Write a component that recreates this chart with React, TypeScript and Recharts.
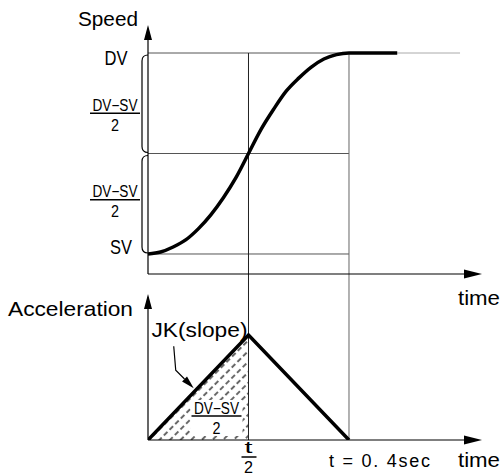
import React from 'react'
import { ComposedChart, Line, Area, XAxis, YAxis, ReferenceLine, ReferenceDot, ReferenceArea } from 'recharts'

// speed profile: time in sec, speed as % of the SV..DV step
const speedTimes = [0, 0.025, 0.05, 0.075, 0.1, 0.125, 0.15, 0.175, 0.2, 0.225, 0.25, 0.275, 0.3, 0.325, 0.35, 0.375, 0.4, 0.496]
const speedValues = [0, 1, 3.5, 7, 12.5, 19.5, 28, 38, 50, 62, 72, 81, 87.5, 93, 97, 99.2, 100, 100]
// thin grey continuation of the DV level
const holdTimes = [0.496, 0.621]
const holdValues = [100, 100]

// acceleration triangle (peak = 1)
const accTimes = [0, 0.2, 0.4]
const accValues = [0, 1, 0]
// hatched part under the rising edge
const hatchTimes = [0, 0.2]
const hatchValues = [0, 1]

const SV = 0
const MID = 50
const DV = 100
const T = 0.4
const HALF_T = 0.2

// axis extents
const X_MAX = 0.6647
const SPEED_DOMAIN = [-92.54, 116.42]
const ACC_DOMAIN = [0, 4]
const SPEED_AXIS_BOTTOM = -9.95
const SPEED_AXIS_TOP = 113.93
const ACC_AXIS_TOP = 1.39

const FONT = 'Liberation Sans, Arial, Helvetica, sans-serif'

const speedData = speedTimes.map((t, i) => ({ t, v: speedValues[i] }))
const holdData = holdTimes.map((t, i) => ({ t, v: holdValues[i] }))
const accData = accTimes.map((t, i) => ({ t, a: accValues[i] }))
const hatchData = hatchTimes.map((t, i) => ({ t, a: hatchValues[i] }))

function Txt({ x, y, children, size = 21, anchor = 'start', len, adjust = 'spacingAndGlyphs' }: any) {
  return (
    <text
      x={x}
      y={y}
      fontSize={size}
      fontFamily={FONT}
      textAnchor={anchor}
      textLength={len}
      lengthAdjust={len ? adjust : undefined}
      fill="#000"
    >
      {children}
    </text>
  )
}

function Fraction({ cx, cy, halo = false }: any) {
  return (
    <g>
      {halo && <rect x={cx - 26} y={cy - 16} width={52} height={36} fill="#fff" />}
      <Txt x={cx} y={cy - 2.5} anchor="middle" size={16} len={45}>DV−SV</Txt>
      <line x1={cx - 25} x2={cx + 25} y1={cy} y2={cy} stroke="#000" strokeWidth={1.5} />
      <Txt x={cx} y={cy + 17.5} anchor="middle" size={16} len={8}>2</Txt>
    </g>
  )
}

function Brace({ x, y, height }: any) {
  const y0 = y + 2
  const y1 = y + height - 1
  const bx = x - 6
  return (
    <path
      d={`M${x} ${y0} Q${bx} ${y0} ${bx} ${y0 + 6} L${bx} ${y1 - 6} Q${bx} ${y1} ${x} ${y1}`}
      fill="none"
      stroke="#000"
      strokeWidth={1.2}
    />
  )
}

const upArrow = (p: any) => (
  <path d={`M${p.cx} ${p.cy} L${p.cx + 4} ${p.cy + 15} L${p.cx - 4} ${p.cy + 15} Z`} fill="#000" />
)
const rightArrow = (p: any) => (
  <path d={`M${p.cx} ${p.cy} L${p.cx - 18} ${p.cy - 4.5} L${p.cx - 18} ${p.cy + 4.5} Z`} fill="#000" />
)

function Leader({ cx, cy }: any) {
  const tx = cx - 1
  const ty = cy - 3
  const d = 0.7071
  const bx = tx - 13 * d
  const by = ty - 13 * d
  return (
    <g>
      <path d={`M${cx - 21} ${cy - 45} L${cx - 19} ${cy - 21} L${bx} ${by}`} fill="none" stroke="#000" strokeWidth={1.2} />
      <path d={`M${tx} ${ty} L${bx - 3.5 * d} ${by + 3.5 * d} L${bx + 3.5 * d} ${by - 3.5 * d} Z`} fill="#000" />
    </g>
  )
}

export default function App() {
  return (
    <div style={{ position: 'absolute', left: 0, top: 0, width: 502, height: 475, background: '#fff' }}>
      <ComposedChart width={502} height={475} margin={{ top: 20, right: 20, bottom: 35, left: 148 }}>
        <defs>
          <pattern id="hatch" width="8" height="7.5" patternUnits="userSpaceOnUse" patternTransform="rotate(-45)">
            <line x1="0" y1="3.75" x2="8" y2="3.75" stroke="#666" strokeWidth={2} strokeDasharray="5 3" />
          </pattern>
        </defs>
        <XAxis type="number" dataKey="t" domain={[0, X_MAX]} hide allowDataOverflow />
        <YAxis yAxisId="speed" type="number" domain={SPEED_DOMAIN} hide allowDataOverflow />
        <YAxis yAxisId="acc" type="number" domain={ACC_DOMAIN} hide allowDataOverflow />

        {/* speed grid */}
        {[DV, MID, SV].map((v) => (
          <ReferenceLine key={v} yAxisId="speed" segment={[{ x: 0, y: v }, { x: T, y: v }]} stroke="#555" strokeWidth={1} />
        ))}
        <ReferenceLine yAxisId="speed" segment={[{ x: HALF_T, y: DV }, { x: HALF_T, y: SPEED_DOMAIN[0] }]} stroke="#222" strokeWidth={1} />
        <ReferenceLine yAxisId="speed" segment={[{ x: T, y: DV }, { x: T, y: SPEED_DOMAIN[0] }]} stroke="#666" strokeWidth={1} />

        {/* axes */}
        <ReferenceLine yAxisId="speed" segment={[{ x: 0, y: SPEED_AXIS_BOTTOM }, { x: 0, y: SPEED_AXIS_TOP - 3 }]} stroke="#000" strokeWidth={1.2} />
        <ReferenceLine yAxisId="speed" segment={[{ x: 0, y: SPEED_AXIS_BOTTOM }, { x: X_MAX - 0.01, y: SPEED_AXIS_BOTTOM }]} stroke="#000" strokeWidth={1.2} />
        <ReferenceLine yAxisId="acc" segment={[{ x: 0, y: 0 }, { x: 0, y: ACC_AXIS_TOP - 0.03 }]} stroke="#000" strokeWidth={1.2} />
        <ReferenceLine yAxisId="acc" segment={[{ x: 0, y: 0 }, { x: X_MAX - 0.01, y: 0 }]} stroke="#000" strokeWidth={1.2} />
        <ReferenceDot yAxisId="speed" x={0} y={SPEED_AXIS_TOP} ifOverflow="visible" shape={upArrow} />
        <ReferenceDot yAxisId="speed" x={X_MAX} y={SPEED_AXIS_BOTTOM} ifOverflow="visible" shape={rightArrow} />
        <ReferenceDot yAxisId="acc" x={0} y={ACC_AXIS_TOP} ifOverflow="visible" shape={upArrow} />
        <ReferenceDot yAxisId="acc" x={X_MAX} y={0} ifOverflow="visible" shape={rightArrow} />

        {/* series */}
        <Area yAxisId="acc" data={hatchData} dataKey="a" type="linear" fill="url(#hatch)" fillOpacity={1} stroke="none" baseValue={0} isAnimationActive={false} />
        <Line yAxisId="speed" data={holdData} dataKey="v" type="linear" stroke="#aaa" strokeWidth={1} dot={false} isAnimationActive={false} />
        <Line yAxisId="speed" data={speedData} dataKey="v" type="monotone" stroke="#000" strokeWidth={3.5} dot={false} isAnimationActive={false} />
        <Line yAxisId="acc" data={accData} dataKey="a" type="linear" stroke="#000" strokeWidth={3.5} dot={false} isAnimationActive={false} />

        {/* braces and labels */}
        <ReferenceArea yAxisId="speed" x1={0} x2={0.01} y1={MID} y2={DV} ifOverflow="visible" shape={(p: any) => <Brace {...p} />} />
        <ReferenceArea yAxisId="speed" x1={0} x2={0.01} y1={SV} y2={MID} ifOverflow="visible" shape={(p: any) => <Brace {...p} />} />

        <ReferenceDot yAxisId="speed" x={0} y={SPEED_AXIS_TOP} ifOverflow="visible"
          shape={(p: any) => <Txt x={p.cx - 10} y={p.cy + 1} anchor="end" size={20} len={60}>Speed</Txt>} />
        <ReferenceDot yAxisId="speed" x={0} y={DV} ifOverflow="visible"
          shape={(p: any) => <Txt x={p.cx - 32} y={p.cy + 12} anchor="middle" size={21} len={23}>DV</Txt>} />
        <ReferenceDot yAxisId="speed" x={0} y={SV} ifOverflow="visible"
          shape={(p: any) => <Txt x={p.cx - 27} y={p.cy} anchor="middle" size={21} len={22}>SV</Txt>} />
        <ReferenceDot yAxisId="speed" x={0} y={70} ifOverflow="visible"
          shape={(p: any) => <Fraction cx={p.cx - 33} cy={p.cy} />} />
        <ReferenceDot yAxisId="speed" x={0} y={27} ifOverflow="visible"
          shape={(p: any) => <Fraction cx={p.cx - 33} cy={p.cy} />} />
        <ReferenceDot yAxisId="speed" x={X_MAX} y={SPEED_AXIS_BOTTOM} ifOverflow="visible"
          shape={(p: any) => <Txt x={p.cx - 24} y={p.cy + 31} size={21} len={42}>time</Txt>} />

        <ReferenceDot yAxisId="acc" x={0} y={ACC_AXIS_TOP} ifOverflow="visible"
          shape={(p: any) => <Txt x={p.cx - 15} y={p.cy + 22} anchor="end" size={21} len={125}>Acceleration</Txt>} />
        <ReferenceDot yAxisId="acc" x={HALF_T} y={1} ifOverflow="visible"
          shape={(p: any) => <Txt x={p.cx - 1} y={p.cy + 2} anchor="end" size={20} len={96}>JK(slope)</Txt>} />
        <ReferenceDot yAxisId="acc" x={0.093} y={0.465} ifOverflow="visible" shape={(p: any) => <Leader {...p} />} />
        <ReferenceDot yAxisId="acc" x={HALF_T} y={0} ifOverflow="visible"
          shape={(p: any) => <Fraction cx={p.cx - 32} cy={p.cy - 24} halo />} />
        <ReferenceDot yAxisId="acc" x={HALF_T} y={0} ifOverflow="visible"
          shape={(p: any) => (
            <g>
              <Txt x={p.cx} y={p.cy + 13} anchor="middle" size={16} len={8}>t</Txt>
              <line x1={p.cx - 7} x2={p.cx + 8} y1={p.cy + 17} y2={p.cy + 17} stroke="#000" strokeWidth={1.5} />
              <Txt x={p.cx} y={p.cy + 33} anchor="middle" size={16} len={9}>2</Txt>
            </g>
          )} />
        <ReferenceDot yAxisId="acc" x={T} y={0} ifOverflow="visible"
          shape={(p: any) => <Txt x={p.cx - 20} y={p.cy + 27} size={18} len={101} adjust="spacing">t = 0. 4sec</Txt>} />
        <ReferenceDot yAxisId="acc" x={X_MAX} y={0} ifOverflow="visible"
          shape={(p: any) => <Txt x={p.cx - 24} y={p.cy + 27} size={21} len={42}>time</Txt>} />
      </ComposedChart>
    </div>
  )
}
